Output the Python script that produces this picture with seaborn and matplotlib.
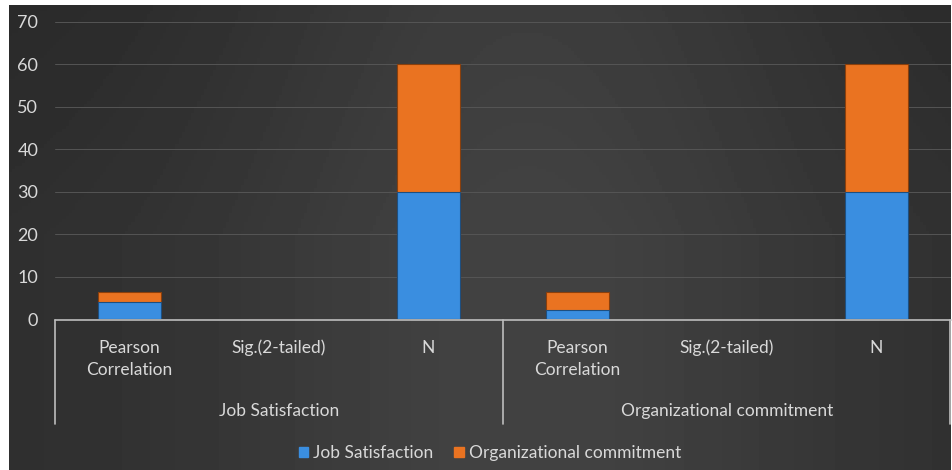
import seaborn as sns
import matplotlib.pyplot as plt
import matplotlib.patches as mpatches
from matplotlib.lines import Line2D
import numpy as np
import pandas as pd

# Data
groups = ['Job Satisfaction', 'Organizational commitment']
measures = ['Pearson\nCorrelation', 'Sig.(2-tailed)', 'N']
job_satisfaction = [4.0, 0, 30, 2.1, 0, 30]
org_commitment = [2.4, 0, 30, 4.3, 0, 30]

keys = [g + '|' + m for g in groups for m in measures]
df = pd.DataFrame({'key': keys,
                   'Job Satisfaction': job_satisfaction,
                   'Organizational commitment': org_commitment})
df['total'] = df['Job Satisfaction'] + df['Organizational commitment']

sns.set_style('dark')
plt.rcParams['font.family'] = ['Lato', 'DejaVu Sans']
txt = '#d9d9d9'
blue = '#3a8ee0'
orange = '#ea7321'

fig = plt.figure(figsize=(9.53, 4.70), dpi=100)
fig.patch.set_facecolor('white')

# Background gradient panel
bg = fig.add_axes([9 / 953, 0, 942 / 953, 465 / 470])
xx = np.linspace(-1, 1, 300)
yy = np.linspace(-1, 1, 150)
X, Y = np.meshgrid(xx, yy)
shade = 0.18 + 0.08 * np.exp(-((X - 0.1) ** 2) / 0.45) - 0.02 * (Y < 0) * np.abs(Y)
bg.imshow(shade, cmap='gray', vmin=0, vmax=1, aspect='auto', extent=[0, 1, 0, 1])
bg.set_axis_off()

# Plot area
ax = fig.add_axes([55 / 953, 1 - 319 / 470, 896 / 953, 297 / 470])
ax.patch.set_alpha(0)
sns.barplot(data=df, x='key', y='total', order=keys, color=orange,
            width=0.42, edgecolor='#8a3f0c', linewidth=0.8, saturation=1, ax=ax)
sns.barplot(data=df, x='key', y='Job Satisfaction', order=keys, color=blue,
            width=0.42, edgecolor='#1d4f80', linewidth=0.8, saturation=1, ax=ax)

ax.set_ylim(0, 70)
ax.set_xlim(-0.5, 5.5)
ax.set_yticks(range(0, 71, 10))
ax.yaxis.grid(True, color='#555555', linewidth=0.7)
ax.set_axisbelow(True)
ax.tick_params(axis='y', colors=txt, labelsize=13, length=0, pad=12)
ax.set_xticks(range(6))
ax.set_xticklabels([m for g in groups for m in measures], color=txt, fontsize=12.5, linespacing=1.5)
ax.tick_params(axis='x', length=0, pad=15)
for lbl in ax.get_xticklabels():
    lbl.set_verticalalignment('top')
ax.set_xlabel('')
ax.set_ylabel('')
for s in ax.spines.values():
    s.set_visible(False)

# Category box lines
line_col = '#bdbdbd'
fig.add_artist(Line2D([55 / 953, 951 / 953], [1 - 320 / 470] * 2, color=line_col, lw=1.2))
for xp in [55, 503, 950]:
    fig.add_artist(Line2D([xp / 953] * 2, [1 - 320 / 470, 1 - 424 / 470], color=line_col, lw=1.2))

# Group labels
for i, g in enumerate(groups):
    fig.text((55 + 448 * i + 224) / 953, 1 - 411 / 470, g, color=txt, fontsize=12.5,
             ha='center', va='center')

# Legend
handles = [mpatches.Patch(color=blue, label='Job Satisfaction'),
           mpatches.Patch(color=orange, label='Organizational commitment')]
fig.legend(handles=handles, loc='center', bbox_to_anchor=(490 / 953, 1 - 453 / 470), ncol=2,
           frameon=False, fontsize=12.5, labelcolor=txt, handlelength=0.55, handleheight=0.55,
           handletextpad=0.3, columnspacing=1.2)

plt.savefig('out.png', dpi=100)
